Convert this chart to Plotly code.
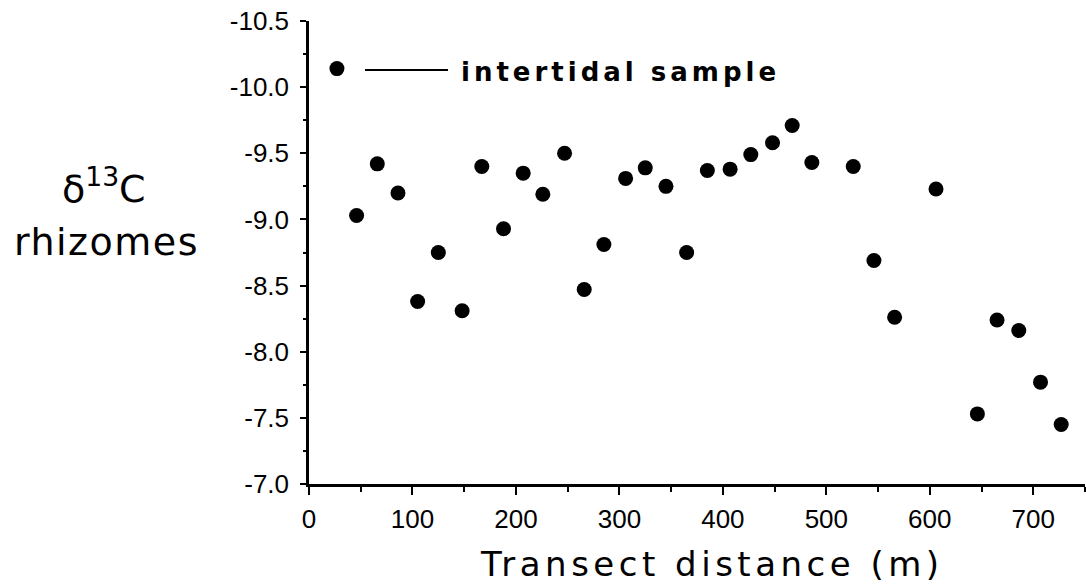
import plotly.graph_objects as go

# Transect distance (m)
distance = [27, 46, 66, 86, 105, 125, 148, 167, 188, 207, 226, 247, 266, 285, 306, 325,
            345, 365, 385, 407, 427, 448, 467, 486, 526, 546, 566, 606, 646, 665, 686, 707, 727]
# delta 13C of rhizomes
d13c = [-10.14, -9.03, -9.42, -9.20, -8.38, -8.75, -8.31, -9.40, -8.93, -9.35, -9.19, -9.50,
        -8.47, -8.81, -9.31, -9.39, -9.25, -8.75, -9.37, -9.38, -9.49, -9.58, -9.71, -9.43,
        -9.40, -8.69, -8.26, -9.23, -7.53, -8.24, -8.16, -7.77, -7.45]

y_ticks = [-10.5, -10.0, -9.5, -9.0, -8.5, -8.0, -7.5, -7.0]
y_labels = ["-10.5", "-10.0", "-9.5", "-9.0", "-8.5", "-8.0", "-7.5", "-7.0"]
x_ticks = [0, 100, 200, 300, 400, 500, 600, 700]
x_labels = ["0", "100", "200", "300", "400", "500", "600", "700"]

def spaced(t, px):
    return '<span style="letter-spacing:%spx">%s</span>' % (px, t)

fig = go.Figure()
fig.add_trace(go.Scatter(
    x=distance, y=d13c, mode="markers",
    marker=dict(size=15, color="black", line=dict(width=0)),
    showlegend=False, hoverinfo="x+y"))

tickfont = dict(family="Liberation Sans, Arial, sans-serif", size=26, color="black")

fig.update_layout(
    width=1086, height=586,
    margin=dict(l=309, r=1, t=21, b=102, pad=0),
    paper_bgcolor="white", plot_bgcolor="white",
    showlegend=False,
    xaxis=dict(
        range=[0, 750], showgrid=False, zeroline=False,
        showline=True, linecolor="black", linewidth=2.5,
        ticks="outside", ticklen=8, tickwidth=2, tickcolor="black",
        tickvals=x_ticks, ticktext=x_labels,
        tickfont=tickfont, ticklabelstandoff=2,
        minor=dict(dtick=50, tick0=0, ticks="outside", ticklen=5, tickwidth=2, tickcolor="black"),
    ),
    yaxis=dict(
        range=[-7.0, -10.5], showgrid=False, zeroline=False,
        showline=True, linecolor="black", linewidth=2.5,
        ticks="outside", ticklen=6, tickwidth=2, tickcolor="black",
        tickvals=y_ticks, ticktext=y_labels,
        tickfont=tickfont, ticklabelstandoff=6,
        minor=dict(dtick=0.25, tick0=-10.5, ticks="outside", ticklen=3, tickwidth=2, tickcolor="black"),
    ),
)

# X-axis title
fig.add_annotation(
    xref="paper", yref="paper", x=(712 - 309) / 776, y=-(564 - 484) / 463,
    text=spaced("Transect distance (m)", 4.5), showarrow=False,
    xanchor="center", yanchor="middle",
    font=dict(family="DejaVu Sans, sans-serif", size=34, color="black"))

# Y-axis title (two lines)
fig.add_annotation(
    xref="paper", yref="paper", x=(104 - 309) / 776, y=(484 - 186) / 463,
    text="δ<sup>13</sup>C", showarrow=False, xanchor="center", yanchor="middle",
    font=dict(family="DejaVu Sans, sans-serif", size=38, color="black"))
fig.add_annotation(
    xref="paper", yref="paper", x=(106 - 309) / 776, y=(484 - 242) / 463,
    text=spaced("rhizomes", 1.5), showarrow=False, xanchor="center", yanchor="middle",
    font=dict(family="DejaVu Sans, sans-serif", size=38, color="black"))

# Key: intertidal sample line
fig.add_shape(type="line", xref="paper", yref="paper",
              x0=(365 - 309) / 776, x1=(448 - 309) / 776,
              y0=(484 - 70) / 463, y1=(484 - 70) / 463,
              line=dict(color="black", width=2))
fig.add_annotation(
    xref="paper", yref="paper", x=(459 - 309) / 776, y=(484 - 72) / 463,
    text=spaced("intertidal sample", 4), showarrow=False, xanchor="left", yanchor="middle",
    font=dict(family="DejaVu Sans, sans-serif", size=26, color="black", weight="bold"))

fig.write_html("out.html")
